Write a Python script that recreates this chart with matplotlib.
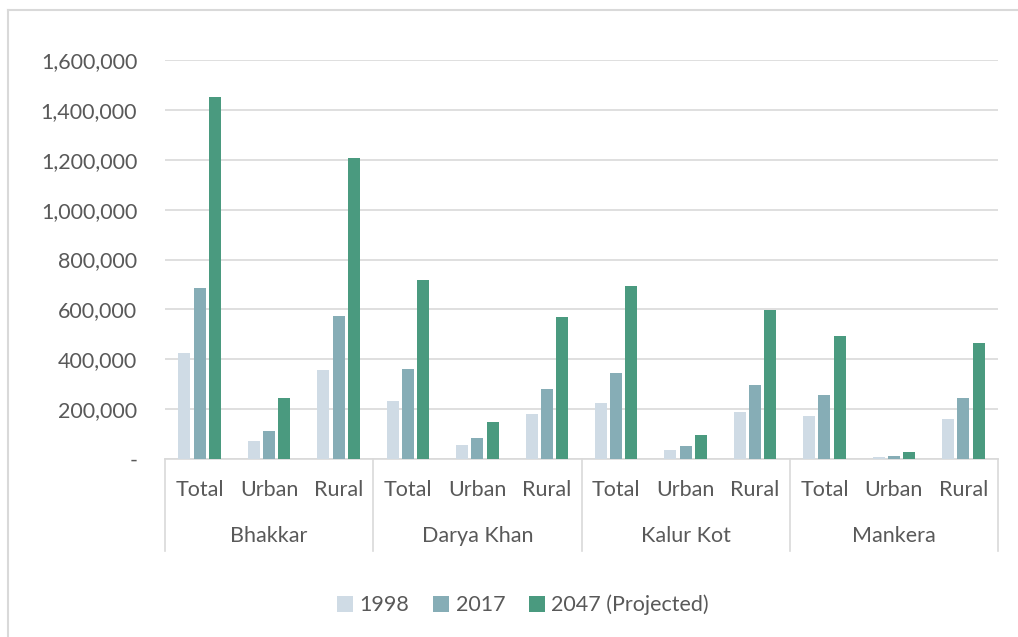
import numpy as np
import matplotlib
matplotlib.use("Agg")
from matplotlib import pyplot as plt
from matplotlib.ticker import FuncFormatter
from matplotlib.lines import Line2D

# data
districts = ["Bhakkar", "Darya Khan", "Kalur Kot", "Mankera"]
areas = ["Total", "Urban", "Rural"]
series = ["1998", "2017", "2047 (Projected)"]
pop_1998 = [425000, 72000, 357000, 232000, 56000, 180000,
            224000, 36000, 188000, 172000, 8000, 160000]
pop_2017 = [685000, 112000, 573000, 361000, 84000, 281000,
            345000, 52000, 297000, 257000, 12000, 245000]
pop_2047 = [1451000, 245000, 1206000, 717000, 148000, 569000,
            693000, 96000, 597000, 493000, 28000, 465000]
colors = ["#CFDBE5", "#86ADB6", "#4A9A7F"]

plt.rcParams['font.family'] = ['Lato', 'DejaVu Sans']
txt = "#595959"
grid = "#D9D9D9"
fs = 15.5

fig = plt.figure(figsize=(10.18, 6.37), dpi=100)
W, H = 1018, 637
ax = fig.add_axes([165 / W, 1 - 459 / H, (998 - 165) / W, (459 - 60) / H])

x = np.arange(len(districts) * len(areas))
bw = 0.173
off = 0.22
for i, (vals, c) in enumerate(zip([pop_1998, pop_2017, pop_2047], colors)):
    ax.bar(x + (i - 1) * off, vals, width=bw, color=c, label=series[i], zorder=3)

ax.set_xlim(-0.5, len(x) - 0.5)
ax.set_ylim(0, 1600000)
ax.set_yticks(np.arange(0, 1600001, 200000))
ax.yaxis.set_major_formatter(FuncFormatter(lambda v, p: "-" if v == 0 else f"{int(v):,}"))
ax.tick_params(axis="y", length=0, pad=20, labelsize=fs, labelcolor=txt)
ax.grid(axis="y", color=grid, linewidth=1.2, zorder=0)
for s in ["top", "right", "left"]:
    ax.spines[s].set_visible(False)
ax.spines["bottom"].set_color(grid)
ax.spines["bottom"].set_linewidth(1.2)

ax.set_xticks(x)
ax.set_xticklabels(areas * len(districts))
ax.tick_params(axis="x", length=0, pad=15, labelsize=fs, labelcolor=txt)

trans = ax.get_xaxis_transform()
ybot = -(551 - 459) / (459 - 60)
for b in np.arange(-0.5, len(x), 3):
    ax.add_line(Line2D([b, b], [0, ybot], transform=trans, color=grid,
                       linewidth=1.2, clip_on=False))
for j, d in enumerate(districts):
    ax.text(j * 3 + 1, -(536 - 459) / (459 - 60), d, transform=trans,
            ha="center", va="center", fontsize=fs, color=txt)

leg = fig.legend(loc="center", bbox_to_anchor=(523 / W, 1 - 605 / H), ncol=3,
                 frameon=False, fontsize=fs, handlelength=0.75, handleheight=0.75,
                 columnspacing=1.1, handletextpad=0.3)
for t in leg.get_texts():
    t.set_color(txt)

# light frame round the chart
fig.add_artist(Line2D([8 / W, 8 / W], [0, 1 - 10 / H], color=grid, linewidth=1.5))
fig.add_artist(Line2D([8 / W, 1], [1 - 10 / H, 1 - 10 / H], color=grid, linewidth=1.5))

fig.savefig("out.png", dpi=100)
